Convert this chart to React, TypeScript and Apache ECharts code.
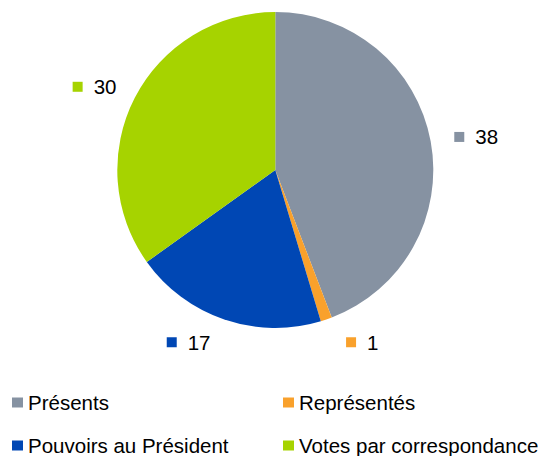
import React, { useEffect, useRef } from "react";
import * as echarts from "echarts";

const categories = ["Présents", "Représentés", "Pouvoirs au Président", "Votes par correspondance"];
const values = [38, 1, 17, 30];
const colors = ["#8692A2", "#F9A12C", "#0047B4", "#A6D300"];

// styling: legend grid cell per category, label distance tweaks
const legendCols = [0, 1, 0, 1];
const legendRows = [0, 0, 1, 1];
const labelDistance = [0, 12, 6, -3];

const FONT = "'Liberation Sans', Arial, sans-serif";
const FS = 20.5;

export default function App() {
  const ref = useRef<HTMLDivElement>(null);
  useEffect(() => {
    if (!ref.current) return;
    const chart = echarts.init(ref.current, null, { renderer: "svg" });
    const data = categories.map((name, i) => ({
      name,
      value: values[i],
      itemStyle: { color: colors[i] },
      label: {
        distanceToLabelLine: labelDistance[i],
        rich: {
          m: { width: 10, height: 10, backgroundColor: colors[i] },
          v: { fontSize: FS, fontFamily: FONT, color: "#000", padding: [0, 0, 0, 11] },
        },
      },
    }));
    const legends = categories.map((name, i) => ({
      orient: "horizontal" as const,
      left: legendCols[i] === 0 ? 12 : 283,
      top: legendRows[i] === 0 ? 392 : 435,
      padding: 0,
      itemWidth: 11,
      itemHeight: 10,
      icon: "rect",
      selectedMode: false,
      textStyle: { fontSize: FS, lineHeight: 20, fontFamily: FONT, color: "#000" },
      data: [name],
    }));
    chart.setOption({
      animation: false,
      textStyle: { fontFamily: FONT },
      legend: legends,
      series: [
        {
          type: "pie",
          center: [275.3, 170],
          radius: 158,
          startAngle: 90,
          clockwise: true,
          avoidLabelOverlap: false,
          label: {
            show: true,
            position: "outside",
            formatter: (p: any) => `{m|}{v|${p.value}}`,
          },
          labelLine: { show: false, length: 24, length2: 0 },
          emphasis: { disabled: true },
          data,
        },
      ],
    });
    return () => chart.dispose();
  }, []);
  return (
    <div
      ref={ref}
      style={{ position: "fixed", left: 0, top: 0, width: 551, height: 456, background: "#fff" }}
    />
  );
}
